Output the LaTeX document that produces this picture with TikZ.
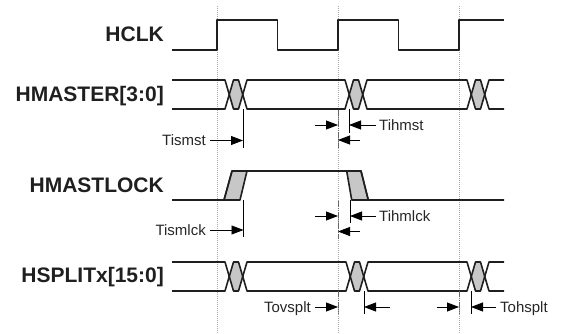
\documentclass[tikz,border=0pt]{standalone}
\usepackage{fontspec}
\setmainfont{Liberation Sans}
\usetikzlibrary{arrows.meta}
\begin{document}
\begin{tikzpicture}[x=1pt,y=-1pt,
  wave/.style={line width=1.6pt,draw=black!88,line join=round},
  gfill/.style={fill=black!22},
  gridline/.style={draw=black!35,line width=0.8pt,dash pattern=on 0.8pt off 1.2pt},
  tmark/.style={draw=black,line width=0.8pt},
  clkmark/.style={draw=black!60,line width=1pt,dash pattern=on 1.6pt off 0.6pt},
  tarrow/.style={draw=black,line width=0.8pt,-{Triangle[length=12pt,width=9pt]}},
  siglabel/.style={anchor=base east,font=\fontsize{21}{24}\selectfont\bfseries,text=black!88,inner sep=0pt},
  tlabelr/.style={anchor=base east,font=\fontsize{15}{18}\selectfont,text=black!85,inner sep=0pt},
  tlabell/.style={anchor=base west,font=\fontsize{15}{18}\selectfont,text=black!85,inner sep=0pt},
]
\useasboundingbox (0,0) rectangle (565,334);

% clock edge grid lines
\foreach \x in {217,338,459} \draw[gridline] (\x,6) -- (\x,334);

% signal names
\node[siglabel] (hclk) at (164,41.5) {HCLK};
\node[siglabel] (hmaster) at (164,101.5) {HMASTER[3:0]};
\node[siglabel] (hmastlock) at (164,193) {HMASTLOCK};
\node[siglabel] (hsplit) at (164,282) {HSPLITx[15:0]};

% HCLK
\draw[wave] (172,50) -- (217,50) -- (217,20) -- (277.5,20) -- (277.5,50) -- (338,50)
  -- (338,20) -- (398.5,20) -- (398.5,50) -- (459,50) -- (459,20) -- (504,20);

% HMASTER bus (top 80, bottom 109)
\foreach \s in {225,345,467}
  \fill[gfill] ({\s+4.25},94.5) -- ({\s+8.5},80) -- ({\s+13.5},80) -- ({\s+17.75},94.5)
    -- ({\s+13.5},109) -- ({\s+8.5},109) -- cycle;
\draw[wave] (172,80) -- (225,80) -- (233.5,109) -- (238.5,109) -- (247,80)
  -- (345,80) -- (353.5,109) -- (358.5,109) -- (367,80)
  -- (467,80) -- (475.5,109) -- (480.5,109) -- (489,80) -- (504,80);
\draw[wave] (172,109) -- (225,109) -- (233.5,80) -- (238.5,80) -- (247,109)
  -- (345,109) -- (353.5,80) -- (358.5,80) -- (367,109)
  -- (467,109) -- (475.5,80) -- (480.5,80) -- (489,109) -- (504,109);

% HMASTLOCK
\filldraw[gfill,wave] (224,200) -- (232,171) -- (247,171) -- (240,200) -- cycle;
\filldraw[gfill,wave] (346.7,171) -- (361,171) -- (368.3,200) -- (351.7,200) -- cycle;
\draw[wave] (172,200) -- (224,200) -- (232,171) -- (361,171) -- (368.3,200) -- (504,200);

% HSPLITx bus (top 262, bottom 291)
\foreach \s in {225,346,467}
  \fill[gfill] ({\s+4.25},276.5) -- ({\s+8.5},262) -- ({\s+13.5},262) -- ({\s+17.75},276.5)
    -- ({\s+13.5},291) -- ({\s+8.5},291) -- cycle;
\draw[wave] (172,262) -- (225,262) -- (233.5,291) -- (238.5,291) -- (247,262)
  -- (346,262) -- (354.5,291) -- (359.5,291) -- (368,262)
  -- (467,262) -- (475.5,291) -- (480.5,291) -- (489,262) -- (504,262);
\draw[wave] (172,291) -- (225,291) -- (233.5,262) -- (238.5,262) -- (247,291)
  -- (346,291) -- (354.5,262) -- (359.5,262) -- (368,291)
  -- (467,291) -- (475.5,262) -- (480.5,262) -- (489,291) -- (504,291);

% marker coordinates
\coordinate (ms) at (243,109);   \coordinate (msb) at (243,148);
\coordinate (mh) at (349,109);   \coordinate (mhb) at (349,133);
\coordinate (ck2a) at (338,110); \coordinate (ck2ab) at (338,148);
\coordinate (ls) at (243.5,200); \coordinate (lsb) at (243.5,237);
\coordinate (lh) at (350,200);   \coordinate (lhb) at (350,223);
\coordinate (ck2b) at (338,201); \coordinate (ck2bb) at (338,239);
\coordinate (sv) at (364,291);   \coordinate (svb) at (364,314);
\coordinate (sh) at (471,291);   \coordinate (shb) at (471,314);
\coordinate (ck2c) at (338,291); \coordinate (ck2cb) at (338,314);
\coordinate (ck3c) at (459,291); \coordinate (ck3cb) at (459,314);

\draw[tmark] (ms) -- (msb);
\draw[tmark] (mh) -- (mhb);
\draw[tmark] (ls) -- (lsb);
\draw[tmark] (lh) -- (lhb);
\draw[tmark] (sv) -- (svb);
\draw[tmark] (sh) -- (shb);
\draw[clkmark] (ck2a) -- (ck2ab);
\draw[clkmark] (ck2b) -- (ck2bb);
\draw[clkmark] (ck2c) -- (ck2cb);
\draw[clkmark] (ck3c) -- (ck3cb);

% timing labels
\node[tlabelr] (tismst) at (206,146) {Tismst};
\node[tlabell] (tihmst) at (379,130.5) {Tihmst};
\node[tlabelr] (tismlck) at (206,235.5) {Tismlck};
\node[tlabell] (tihmlck) at (379,221.5) {Tihmlck};
\node[tlabelr] (tovsplt) at (311,312.5) {Tovsplt};
\node[tlabell] (tohsplt) at (500,312.5) {Tohsplt};

% HMASTER arrows
\draw[tarrow] (210,140.5) -- (ms |- 0,140.5);
\draw[tarrow] (315,125) -- (ck2a |- 0,125);
\draw[tarrow] (376,125) -- (mh |- 0,125);
\draw[tarrow] (360,140) -- (ck2a |- 0,140);

% HMASTLOCK arrows
\draw[tarrow] (210,230) -- (ls |- 0,230);
\draw[tarrow] (315,216) -- (ck2b |- 0,216);
\draw[tarrow] (376,216) -- (lh |- 0,216);
\draw[tarrow] (360,231.5) -- (ck2b |- 0,231.5);

% HSPLITx arrows
\draw[tarrow] (315,307) -- (ck2c |- 0,307);
\draw[tarrow] (390,307) -- (sv |- 0,307);
\draw[tarrow] (437,307) -- (ck3c |- 0,307);
\draw[tarrow] (496,307) -- (sh |- 0,307);
\end{tikzpicture}
\end{document}
